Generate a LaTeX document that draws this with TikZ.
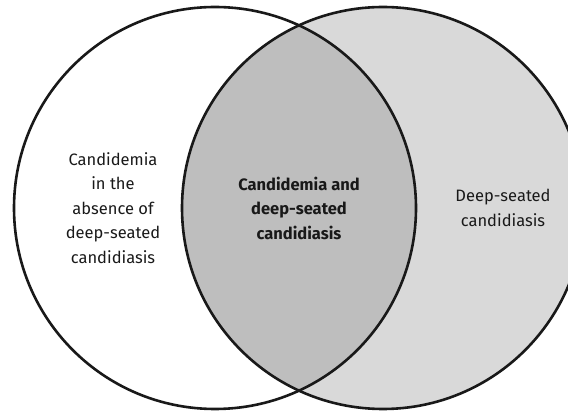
\documentclass[tikz,border=0pt]{standalone}
\usepackage{fontspec}
\setmainfont{Fira Sans}
\definecolor{lensgray}{RGB}{190,190,190}
\definecolor{rightgray}{RGB}{217,217,217}
\begin{document}
\begin{tikzpicture}[x=1pt,y=1pt,
  setcircle/.style={circle, minimum size=402pt, inner sep=0pt, draw=black!90, line width=2.6pt},
  label/.style={align=center, font=\fontsize{16.5}{24.5}\selectfont, text=black!90}]
\useasboundingbox (0,0) rectangle (568,410);
\clip (0,0) rectangle (568,410);
\coordinate (cl) at (215,202);
\coordinate (cr) at (383,202);
\fill[rightgray] (cr) circle (201);
\begin{scope}
  \clip (cl) circle (201);
  \fill[lensgray] (cr) circle (201);
\end{scope}
\node[setcircle] (left) at (cl) {};
\node[setcircle] (right) at (cr) {};
\node[label] (ltext) at (113,202) {Candidemia\\in the\\absence of\\deep-seated\\candidiasis};
\node[label, font=\fontsize{16.5}{24.5}\selectfont\bfseries] (mtext) at (299,202) {Candidemia and\\deep-seated\\candidiasis};
\node[label] (rtext) at (503,202) {Deep-seated\\candidiasis};
\end{tikzpicture}
\end{document}
